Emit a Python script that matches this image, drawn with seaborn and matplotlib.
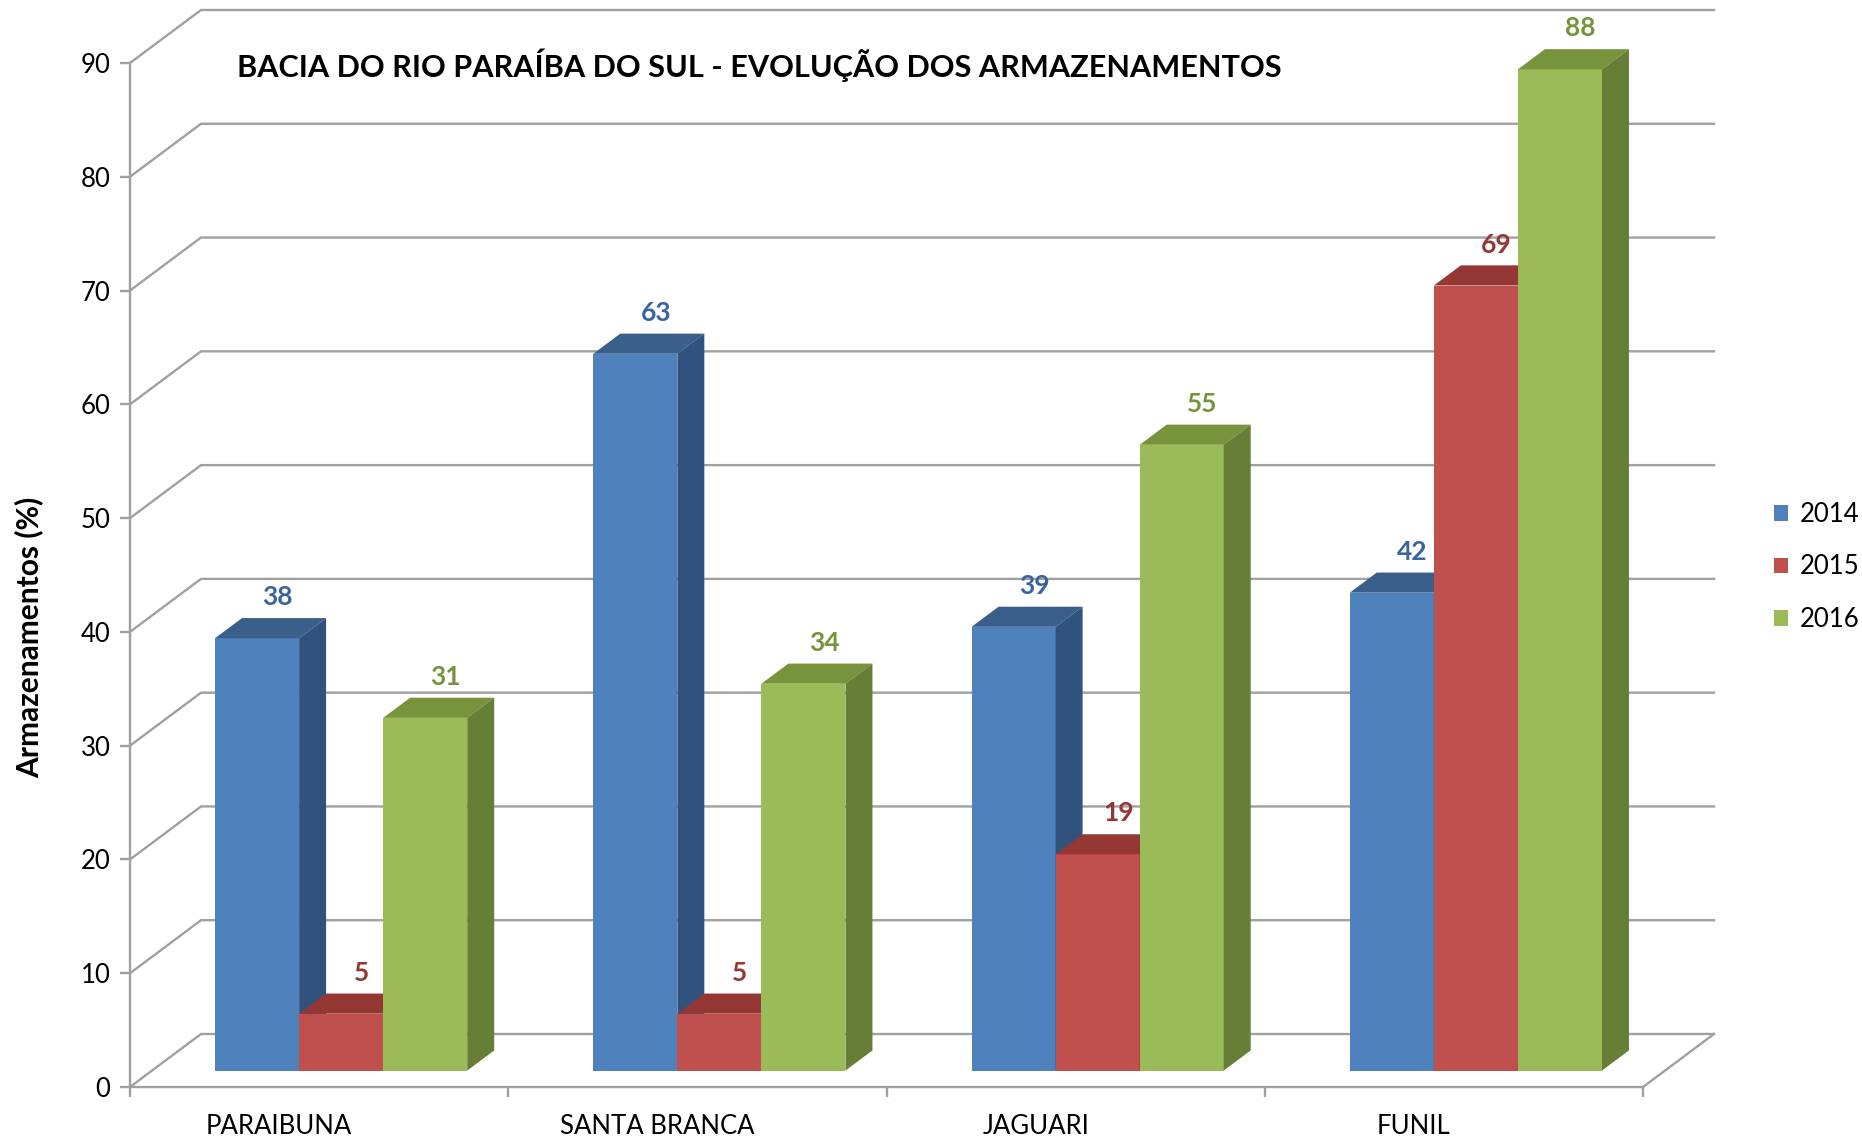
import numpy as np
import pandas as pd
import matplotlib
matplotlib.use('Agg')
import matplotlib.pyplot as plt
from matplotlib.patches import Polygon, Patch
import seaborn as sns

# dados
reservatorios = ['PARAIBUNA', 'SANTA BRANCA', 'JAGUARI', 'FUNIL']
anos = ['2014', '2015', '2016']
v2014 = [38, 63, 39, 42]
v2015 = [5, 5, 19, 69]
v2016 = [31, 34, 55, 88]
y_ticks = list(range(0, 100, 10))
titulo = 'BACIA DO RIO PARAÍBA DO SUL - EVOLUÇÃO DOS ARMAZENAMENTOS'

cor_frente = ['#4F81BD', '#C0504D', '#9BBB59']
cor_topo = ['#3A5F8B', '#953735', '#77933C']
cor_lado = ['#30527D', '#7F2E2C', '#677E37']
cor_rotulo = ['#3A64A0', '#953735', '#77933C']
cinza = '#A0A0A0'

df = pd.DataFrame({
    'reservatorio': reservatorios * 3,
    'ano': np.repeat(anos, len(reservatorios)),
    'valor': v2014 + v2015 + v2016,
})

plt.rcParams['font.family'] = ['Lato', 'DejaVu Sans']

W, H = 1862, 1139
fig = plt.figure(figsize=(W / 100, H / 100), dpi=100)

# plano frontal da caixa 3D (pixels)
x0p, x1p, y0p, y1p = 130, 1643, 1087, 63
ax = fig.add_axes([x0p / W, 1 - y0p / H, (x1p - x0p) / W, (y0p - y1p) / H])

# vetor de profundidade (pixels) convertido para unidades de dados
DX, DY = 71, 53
dxz = DX / ((x1p - x0p) / 4)
dyz = DY / ((y0p - y1p) / 90)
z0, z1 = 0.31, 0.69


def proj(x, v, z):
    return x + dxz * z, v + dyz * z


sns.barplot(data=df, x='reservatorio', y='valor', hue='ano', palette=cor_frente,
            saturation=1, width=2 / 3, linewidth=0, errorbar=None, legend=False, ax=ax)

# paredes: linhas de grade na parede esquerda e no fundo
for v in y_ticks:
    pts = [proj(-0.5, v, 0), proj(-0.5, v, 1), proj(3.5, v, 1)]
    ax.plot([p[0] for p in pts], [p[1] for p in pts], color=cinza, lw=1.7,
            clip_on=False, zorder=1, solid_joinstyle='miter')
pts = [proj(3.5, 0, 0), proj(3.5, 0, 1)]
ax.plot([p[0] for p in pts], [p[1] for p in pts], color=cinza, lw=1.7, clip_on=False, zorder=1)

# barras 3D
for k, cont in enumerate(ax.containers):
    for bar in cont:
        xl = bar.get_x()
        w = bar.get_width()
        h = bar.get_height()
        xr = xl + w
        bar.set_x(proj(xl, 0, z0)[0])
        bar.set_y(proj(xl, 0, z0)[1])
        bar.set_zorder(3 + k)
        topo = [proj(xl, h, z0), proj(xr, h, z0), proj(xr, h, z1), proj(xl, h, z1)]
        lado = [proj(xr, 0, z0), proj(xr, h, z0), proj(xr, h, z1), proj(xr, 0, z1)]
        ax.add_patch(Polygon(topo, closed=True, facecolor=cor_topo[k], lw=0,
                             zorder=3 + k, clip_on=False))
        ax.add_patch(Polygon(lado, closed=True, facecolor=cor_lado[k], lw=0,
                             zorder=3 + k, clip_on=False))
        xt = proj(xl + w / 2, h, 0.6)[0]
        yt = proj(xl, h, z1)[1]
        ax.annotate(f'{h:.0f}', xy=(xt, yt), xytext=(0, 15), textcoords='offset points',
                    ha='center', va='center', fontsize=19, fontweight='bold',
                    color=cor_rotulo[k], zorder=10, annotation_clip=False)

ax.set_xlim(-0.5, 3.5)
ax.set_ylim(0, 90)
ax.set_xlabel('')
ax.set_ylabel('')
ax.set_xticks([-0.5, 0.5, 1.5, 2.5, 3.5], labels=[])
ax.set_yticks(y_ticks)
ax.tick_params(axis='both', length=7.2, width=1.7, color=cinza)
ax.tick_params(axis='y', pad=7, labelsize=18.5, labelcolor='black')
for s in ['top', 'right']:
    ax.spines[s].set_visible(False)
for s in ['left', 'bottom']:
    ax.spines[s].set_color(cinza)
    ax.spines[s].set_linewidth(1.7)

for i, nome in enumerate(reservatorios):
    ax.annotate(nome, xy=(i, 0), xytext=(-40 * 0.72, -39 * 0.72), textcoords='offset points',
                ha='center', va='center', fontsize=18.5, annotation_clip=False)

fig.text(237 / W, 1 - 65 / H, titulo, ha='left', va='center', fontsize=22.1, fontweight='bold')
fig.text(29 / W, 1 - 637 / H, 'Armazenamentos (%)', rotation=90, ha='center', va='center',
         fontsize=21.5, fontweight='bold')

fig.legend(handles=[Patch(facecolor=c) for c in cor_frente], labels=anos,
           loc='center left', bbox_to_anchor=(1764 / W, 1 - 567 / H), frameon=False,
           fontsize=18.5, handlelength=0.55, handleheight=0.55, handletextpad=0.45,
           labelspacing=1.07, borderaxespad=0)

fig.savefig('out.png', dpi=100)
